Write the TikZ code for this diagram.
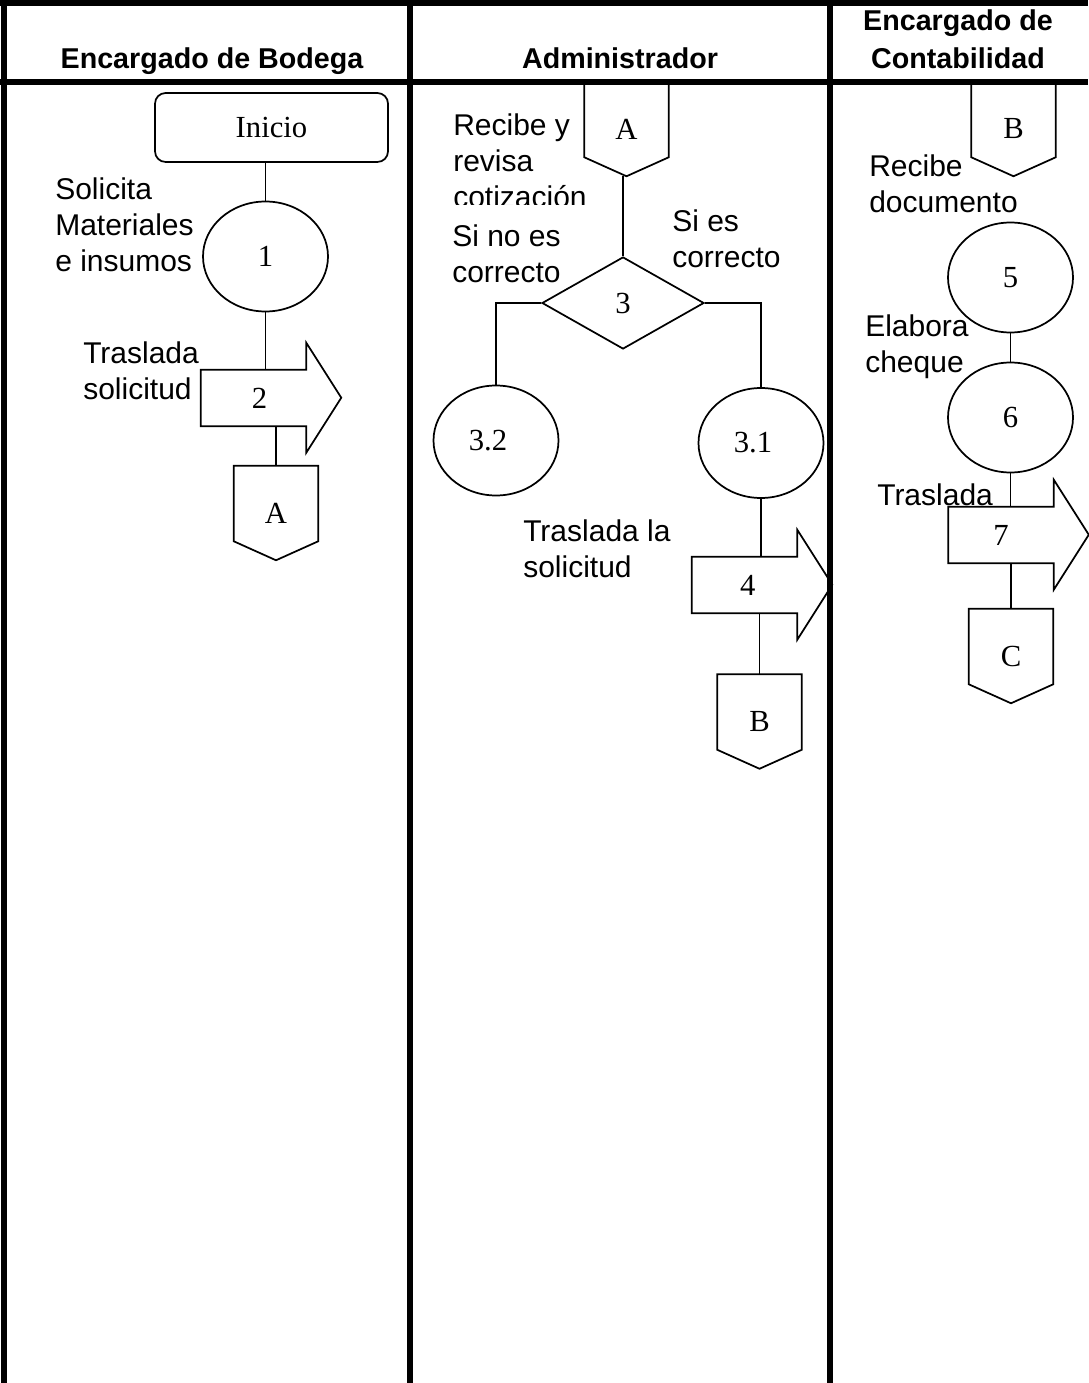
\documentclass[tikz,border=0pt]{standalone}
\usepackage{fontspec}
\setmainfont{Liberation Serif}
\setsansfont{Liberation Sans}
\usetikzlibrary{shapes.geometric,calc}
\def\u{0.75pt}
\newcommand\blockarrow[1]{\draw[shp] (#1.south west) -- (#1.north west) -- (#1.north east) -- ++(0,-27) -- ++(35,55) -- ++(-35,55) -- (#1.south east) -- cycle;}
\newcommand\offpage[1]{\draw[shp] (#1.north west) -- ($(#1.south west)+(0,-19)$) -- (#1.south) -- ($(#1.south east)+(0,-19)$) -- (#1.north east) -- cycle;}
\begin{document}
\begin{tikzpicture}[x=0.75pt,y=-0.75pt,
  shp/.style={draw=black, line width=1.3pt},
  lane/.style={line width=3.8pt},
  num/.style={font=\fontsize{23}{27}\selectfont\rmfamily},
  lbl/.style={font=\fontsize{22.5}{27}\selectfont\sffamily, align=left, anchor=base west, inner sep=0pt},
  hd/.style={font=\fontsize{21.5}{28.5}\selectfont\sffamily\bfseries, align=center, anchor=base, inner sep=0pt},
  circ/.style={shp, ellipse, minimum width=125*\u, minimum height=110*\u, inner sep=0pt, num},
  body/.style={minimum width=105*\u, minimum height=56*\u, inner sep=0pt, num},
  offp/.style={minimum width=84*\u, minimum height=94*\u, inner sep=0pt, num},
]
\useasboundingbox (0,0) rectangle (1088,1383);
\fill[white] (0,0) rectangle (1088,1383);

% headings (anchor = baseline of last line)
\node[hd] (h1) at (212,69) {Encargado de Bodega};
\node[hd] (h2) at (620,69) {Administrador};
\node[hd] (h3) at (958,69) {Encargado de\\Contabilidad};

% ---- Encargado de Bodega ----
\node[shp, rounded corners=8pt, minimum width=233*\u, minimum height=69*\u, inner sep=0pt, num] (inicio) at (271.5,127.5) {Inicio};
\node[circ] (c1) at (265.5,256.5) {1};
\node[body] (a2) at (253.5,398) {\hspace*{9pt}2};
\blockarrow{a2}
\node[offp] (oA1) at (276,513) {A};
\offpage{oA1}

\draw[shp] (c1.north |- inicio.south) -- (c1.north);
\draw[shp] (c1.south) -- (c1.south |- a2.north);
\draw[shp] (oA1.north |- a2.south) -- (oA1.north);

\node[lbl] (t1) at (55,272) {Solicita\\Materiales\\e insumos};
\node[lbl] (t2) at (83,399) {Traslada\\solicitud};

% ---- Administrador ----
\node[offp] (oA2) at (626.5,129) {A};
\offpage{oA2}
\node[shp, diamond, minimum width=162*\u, minimum height=92*\u, inner sep=0pt, num] (d3) at (623,303) {3};
\node[circ] (c32) at (496,440.5) {\hspace*{-12pt}3.2};
\node[circ] (c31) at (761,443) {\hspace*{-12pt}3.1};
\node[body] (a4) at (744.5,585) {\hspace*{5pt}4};
\blockarrow{a4}
\node[offp] (oB1) at (759.5,721.5) {B};
\offpage{oB1}

\draw[shp] (d3.north |- oA2.south) -- (d3.north);
\draw[shp] (d3.west) -| (c32.north);
\draw[shp] (d3.east) -| (c31.north);
\draw[shp] (c31.south) -- (c31.south |- a4.north);
\draw[shp] (oB1.north |- a4.south) -- (oB1.north);

\begin{scope}
\clip (440,95) rectangle (600,205);
\node[lbl] (t3) at (453,208) {Recibe y\\revisa\\cotización};
\end{scope}
\node[lbl] (t4) at (452,283) {Si no es\\correcto};
\node[lbl] (t5) at (672,268) {Si es\\correcto};
\node[lbl] (t6) at (523,577) {Traslada la\\solicitud};

% ---- Encargado de Contabilidad ----
\node[offp] (oB2) at (1013.5,129) {B};
\offpage{oB2}
\node[circ] (c5) at (1010.5,277.5) {5};
\node[circ] (c6) at (1010.5,417.5) {6};
\node[body] (a7) at (1001,535) {7};
\blockarrow{a7}
\node[offp] (oC) at (1011,656) {C};
\offpage{oC}

\draw[shp] (c5.south) -- (c6.north);
\draw[shp] (c6.south) -- (c6.south |- a7.north);
\draw[shp] (oC.north |- a7.south) -- (oC.north);

\node[lbl] (t7) at (869,213) {Recibe\\documento};
\node[lbl] (t8) at (865,373) {Elabora\\cheque};
\node[lbl] (t9) at (877,505) {Traslada};

% ---- lanes ----
\draw[line width=4.5pt] (0,3) -- (1088,3);
\draw[lane] (0,82) -- (1088,82);
\draw[lane] (4,0) -- (4,1383);
\draw[lane] (410,0) -- (410,1383);
\draw[lane] (830,0) -- (830,1383);
\end{tikzpicture}
\end{document}
